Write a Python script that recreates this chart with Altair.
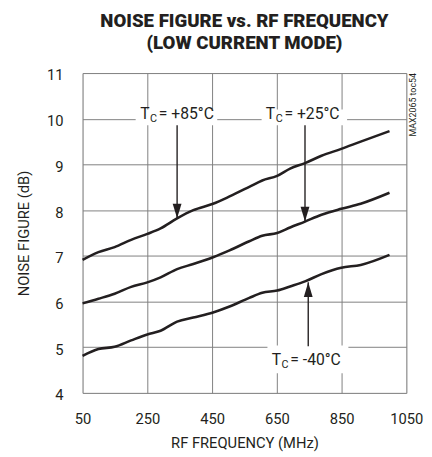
import altair as alt
import pandas as pd

# ---- data ----
freq_85 = [50, 99, 149, 200, 250, 291, 342, 392, 453, 504, 565, 605, 651, 691, 737, 788, 849, 909, 998]
nf_85 = [6.91, 7.08, 7.19, 7.35, 7.48, 7.60, 7.82, 8.00, 8.14, 8.30, 8.51, 8.65, 8.75, 8.91, 9.03, 9.19, 9.34, 9.50, 9.73]

freq_25 = [50, 99, 149, 200, 250, 291, 342, 392, 453, 504, 565, 605, 651, 691, 737, 788, 849, 909, 998]
nf_25 = [5.96, 6.06, 6.17, 6.32, 6.42, 6.53, 6.71, 6.82, 6.97, 7.12, 7.32, 7.44, 7.50, 7.62, 7.75, 7.90, 8.03, 8.14, 8.38]

freq_m40 = [50, 99, 149, 200, 250, 291, 342, 392, 453, 504, 565, 605, 651, 691, 737, 788, 849, 909, 998]
nf_m40 = [4.81, 4.96, 5.01, 5.15, 5.28, 5.36, 5.56, 5.65, 5.76, 5.89, 6.08, 6.19, 6.24, 6.33, 6.44, 6.60, 6.74, 6.80, 7.02]

x_ticks = [50, 250, 450, 650, 850, 1050]
y_ticks = [4, 5, 6, 7, 8, 9, 10, 11]

# annotation labels
lab_names = ["+85°C", "+25°C", "-40°C"]
lab_x = [214, 603, 621]          # MHz, left edge of white box
lab_x2 = [466, 867, 871]         # MHz, right edge of white box
lab_y = [10.2, 10.2, 5.04]       # NF top of box
lab_y2 = [9.86, 9.86, 4.43]      # NF bottom of box
txt_x = [228, 616, 634]          # MHz, left of "T"
txt_y = [10.0, 10.0, 4.60]       # baseline

arrow_x = [342, 737, 747]
arrow_from = [9.86, 9.86, 5.02]
arrow_tip = [7.82, 7.75, 6.42]
arrow_dir = ["down", "down", "up"]

rows = []
for name, fs, vs in [("85", freq_85, nf_85), ("25", freq_25, nf_25), ("-40", freq_m40, nf_m40)]:
    for f, v in zip(fs, vs):
        rows.append({"series": name, "freq": f, "nf": v})
curves = pd.DataFrame(rows)

boxes = pd.DataFrame({"x": lab_x, "x2": lab_x2, "y": lab_y, "y2": lab_y2})
texts = pd.DataFrame({"x": txt_x, "y": txt_y, "rest": ["= " + n for n in lab_names]})
arrows = pd.DataFrame({"x": arrow_x, "y": arrow_from, "y2": arrow_tip, "dir": arrow_dir})

FONT = "Roboto, sans-serif"
TFONT = "Roboto, sans-serif"
INK = "#231f20"
xs = alt.Scale(domain=[50, 1050], nice=False, zero=False)
ys = alt.Scale(domain=[4, 11], nice=False, zero=False)

xaxis = alt.Axis(values=x_ticks, format="d", grid=True, gridColor="#808080", gridWidth=1, ticks=False,
                 domain=False, labelPadding=19, labelFont=FONT, labelFontSize=15,
                 labelColor=INK, title="RF FREQUENCY (MHz)", titleFont=FONT,
                 titleFontSize=15, titleFontWeight="normal", titleColor=INK,
                 titlePadding=10, labelFlush=False)
yaxis = alt.Axis(values=y_ticks, format="d", grid=True, gridColor="#808080", gridWidth=1, ticks=False,
                 domain=False, labelPadding=20, labelOffset=2, labelFont=FONT, labelFontSize=15,
                 labelColor=INK, title="NOISE FIGURE (dB)", titleFont=FONT,
                 titleFontSize=15, titleFontWeight="normal", titleColor=INK,
                 titlePadding=15, labelFlush=False)

base = alt.Chart(curves).mark_line(color=INK, strokeWidth=2.6, interpolate="monotone").encode(
    x=alt.X("freq:Q", scale=xs, axis=xaxis),
    y=alt.Y("nf:Q", scale=ys, axis=yaxis),
    detail="series:N",
)

box = alt.Chart(boxes).mark_rect(color="white").encode(
    x=alt.X("x:Q", scale=xs), x2="x2:Q", y=alt.Y("y:Q", scale=ys), y2="y2:Q"
)

t_main = alt.Chart(texts).mark_text(font=FONT, fontSize=16, align="left", baseline="alphabetic",
                                    color=INK).encode(
    x=alt.X("x:Q", scale=xs), y=alt.Y("y:Q", scale=ys), text=alt.value("T"))
t_sub = alt.Chart(texts).mark_text(font=FONT, fontSize=11, align="left", baseline="alphabetic",
                                   dx=10, dy=3, color=INK).encode(
    x=alt.X("x:Q", scale=xs), y=alt.Y("y:Q", scale=ys), text=alt.value("C"))
t_rest = alt.Chart(texts).mark_text(font=FONT, fontSize=16, align="left", baseline="alphabetic",
                                    dx=19, color=INK).encode(
    x=alt.X("x:Q", scale=xs), y=alt.Y("y:Q", scale=ys), text="rest:N")

shaft = alt.Chart(arrows).mark_rule(color=INK, strokeWidth=1.4).encode(
    x=alt.X("x:Q", scale=xs), y=alt.Y("y:Q", scale=ys), y2="y2:Q")
head_down = alt.Chart(arrows).transform_filter(alt.datum.dir == "down").mark_point(
    shape="M-0.6,-2L0.6,-2L0,0Z", size=225, filled=True, color=INK, opacity=1, strokeWidth=0
).encode(x=alt.X("x:Q", scale=xs), y=alt.Y("y2:Q", scale=ys))
head_up = alt.Chart(arrows).transform_filter(alt.datum.dir == "up").mark_point(
    shape="M-0.6,2L0.6,2L0,0Z", size=225, filled=True, color=INK, opacity=1, strokeWidth=0
).encode(x=alt.X("x:Q", scale=xs), y=alt.Y("y2:Q", scale=ys))

tag = alt.Chart(pd.DataFrame({"x": [1050], "y": [11]})).mark_text(
    text="MAX2065 toc54", font=FONT, fontSize=9, angle=270, align="right", baseline="top",
    dy=3, color=INK).encode(x=alt.X("x:Q", scale=xs), y=alt.Y("y:Q", scale=ys))

chart = alt.layer(base, box, shaft, head_down, head_up, t_main, t_sub, t_rest, tag).properties(
    width=330, height=326,
    title=alt.TitleParams(text=["NOISE FIGURE vs. RF FREQUENCY", "(LOW CURRENT MODE)"],
                          font=TFONT, fontSize=19, fontWeight=900, color=INK,
                          anchor="middle", offset=16, lineHeight=22),
    autosize=alt.AutoSizeParams(type="none"),
    padding={"left": 76, "top": 62, "right": 18, "bottom": 61},
).configure_view(stroke=INK, strokeWidth=2.6).configure(background="white")

chart.save("out.html", embed_options={"renderer": "svg", "actions": False})
